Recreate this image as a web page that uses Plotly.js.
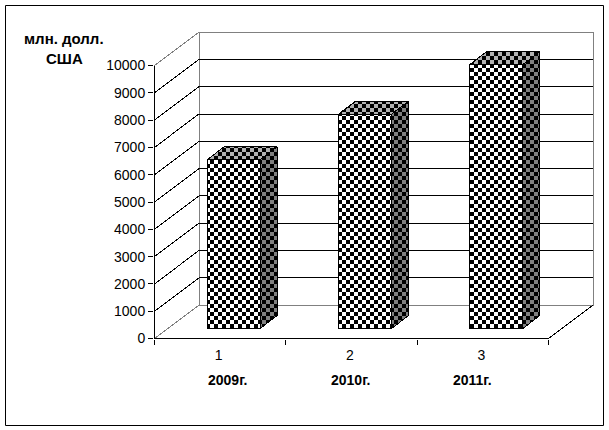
<!DOCTYPE html>
<html><head><meta charset="utf-8">
<script src="https://cdn.plot.ly/plotly-3.0.1.min.js"></script>
<style>html,body{margin:0;padding:0;background:#fff}</style></head>
<body><div id="c" style="width:609px;height:430px"></div>
<script>
const categories=[1,2,3];
const yearLabels=['2009г.','2010г.','2011г.'];
const values=[6180,7850,9670];
const gridValues=[1000,2000,3000,4000,5000,6000,7000,8000,9000];
const yTicks=[0,1000,2000,3000,4000,5000,6000,7000,8000,9000,10000];
const yUnit=['млн. долл.','США'];

const W=609,H=430;
// plot box in pixels, wide enough to hold the 3D depth of the chart
const PL=154,PR=594,PT=32,PB=339;
// front plane: value 0 / 10000 and category edges
const fx0=154.5,fx1=548.5,fy0=338.5,fy1=65.5;
const pxX=(fx1-fx0)/3, pxY=(fy0-fy1)/10000;
const dX=p=>p/pxX, dY=p=>p/pxY;
const x0=0.5,x1=3.5,yMax=10000;
const depthX=dX(44.5), depthY=dY(33.4);
const barShiftX=dX(13.5), barBase=dY(10), barW=dX(53), barDX=dX(17), barDY=dY(13);
const xRange=[x0-dX(fx0-PL),x0+dX(PR-fx0)];
const yRange=[-dY(PB-fy0),dY(fy0-PT)];

function line(xs,ys,color){return {type:'scatter',mode:'lines',x:xs,y:ys,hoverinfo:'skip',showlegend:false,
  line:{color:color,width:1},xaxis:'x',yaxis:'y'};}
const traces=[];
// back wall and floor edges
traces.push(line([x0+depthX,x0+depthX,x1+depthX,x1+depthX,x0+depthX],[depthY,yMax+depthY,yMax+depthY,depthY,depthY],'#808080'));
traces.push(line([x0,x0+depthX],[0,depthY],'#808080'));
traces.push(line([x0,x0+depthX],[yMax,yMax+depthY],'#808080'));
traces.push(line([x1,x1+depthX],[0,depthY],'#000'));
gridValues.forEach(v=>{traces.push(line([x0,x0+depthX,x1+depthX],[v,v+depthY,v+depthY],'#000'));});
// axis lines (only along the front plane)
traces.push(line([x0,x0],[0,yMax],'#000'));
traces.push(line([x0,x1],[0,0],'#000'));
// bars
traces.push({type:'bar',x:categories.map(c=>c+barShiftX),y:values,base:barBase,width:barW,
  marker:{color:'#fff',line:{color:'#000',width:1}},xaxis:'x2',yaxis:'y2',hoverinfo:'skip',showlegend:false});
categories.forEach((c,i)=>{
  const l=c+barShiftX-barW/2,r=c+barShiftX+barW/2,v=values[i]+barBase;
  traces.push({type:'scatter',mode:'lines',fill:'toself',x:[l,l+barDX,r+barDX,r,l],y:[v,v+barDY,v+barDY,v,v],
    fillcolor:'#b2b2b2',line:{color:'#000',width:1},xaxis:'x2',yaxis:'y2',hoverinfo:'skip',showlegend:false});
  traces.push({type:'scatter',mode:'lines',fill:'toself',x:[r,r+barDX,r+barDX,r,r],y:[v,v+barDY,barBase+barDY,barBase,v],
    fillcolor:'#808080',line:{color:'#000',width:1},xaxis:'x2',yaxis:'y2',hoverinfo:'skip',showlegend:false});
});
const font={family:'"Liberation Sans",Arial,sans-serif',size:14,color:'#000'};
const px=x=>(x-PL)/(PR-PL), py=y=>(PB-y)/(PB-PT);
const ann=(t,x,y,size)=>({text:'<b>'+t+'</b>',xref:'paper',yref:'paper',x:px(x),y:py(y),xanchor:'center',yanchor:'middle',showarrow:false,font:{...font,size}});
const annotations=[ann(yUnit[0],63.5,38,15),ann(yUnit[1],64,58,15)];
const yearX=[227.5,350,472];
yearLabels.forEach((t,i)=>annotations.push(ann(t,yearX[i],379.5,14)));
const layout={width:W,height:H,margin:{l:PL,r:W-PR,t:PT,b:H-PB,pad:0},paper_bgcolor:'#fff',plot_bgcolor:'rgba(0,0,0,0)',showlegend:false,barmode:'overlay',
 xaxis:{range:xRange,tickmode:'array',tickvals:categories.map(c=>c-dX(1.5)),ticktext:categories.map(String),ticks:'',ticklen:0,showgrid:false,zeroline:false,
   showline:false,tickfont:font,ticklabelstandoff:6,
   minor:{tickmode:'linear',tick0:0.5,dtick:1,ticks:'outside',ticklen:5,tickcolor:'#000',tickwidth:1,showgrid:false}},
 yaxis:{range:yRange,tickmode:'array',tickvals:yTicks,ticktext:yTicks.map(String),ticks:'outside',ticklen:5,tickcolor:'#000',tickwidth:1,showgrid:false,zeroline:false,
   showline:false,tickfont:font},
 xaxis2:{range:xRange,overlaying:'x',visible:false},
 yaxis2:{range:yRange,overlaying:'y',visible:false},
 shapes:[{type:'rect',xref:'paper',yref:'paper',x0:px(5.5),x1:px(603.5),y0:py(425.5),y1:py(5.5),line:{color:'#000',width:1}}],
 annotations
};
Plotly.newPlot('c',traces,layout,{displayModeBar:false,staticPlot:true}).then(gd=>{
  const svg=gd.querySelector('.main-svg');
  const NS='http://www.w3.org/2000/svg';
  let defs=svg.querySelector('defs');
  function pat(id,col){
    const p=document.createElementNS(NS,'pattern');
    p.setAttribute('id',id);p.setAttribute('patternUnits','userSpaceOnUse');
    p.setAttribute('width',8);p.setAttribute('height',8);
    p.innerHTML=`<rect width="8" height="8" fill="${col}"/><rect width="4" height="4" fill="#000"/><rect x="4" y="4" width="4" height="4" fill="#000"/>`;
    defs.appendChild(p);
  }
  pat('chkFront','#fff');pat('chkTop','#b2b2b2');pat('chkSide','#808080');
  gd.querySelectorAll('.barlayer .point path').forEach(p=>{p.style.fill='url(#chkFront)';p.style.shapeRendering='crispEdges';});
  gd.querySelectorAll('.scatterlayer .fills path').forEach(p=>{
    const f=p.style.fill||'';
    if(f.includes('178')) p.style.fill='url(#chkTop)';
    else if(f.includes('128')) p.style.fill='url(#chkSide)';
    p.style.shapeRendering='crispEdges';
  });
  gd.querySelectorAll('.scatterlayer .js-line').forEach(p=>{p.style.shapeRendering='crispEdges';});
});
</script></body></html>
